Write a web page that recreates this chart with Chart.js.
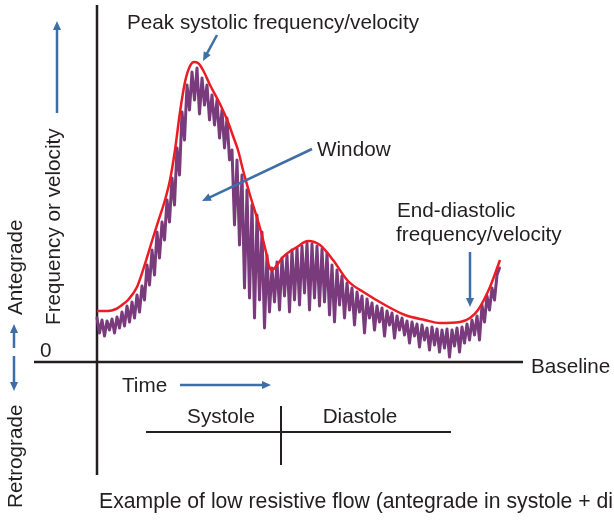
<!DOCTYPE html>
<html lang="en">
<head>
  <meta charset="UTF-8">
  <title>Doppler Spectral Waveform</title>
  <style>
    body { margin: 0; background: #fff; }
    #wave { display: block; }
  </style>
  <script src="https://cdn.jsdelivr.net/npm/chart.js"></script>
</head>
<body>
  <canvas id="wave" width="614" height="520"></canvas>

  <script>
    // spectral trace: Doppler shift (Hz) sampled every 5 ms over one cardiac cycle
    const traceStart = 0;
    const traceStep = 5;
    const traceHz = [
      440, 290, 420, 260, 410, 320, 430, 290, 450, 340,
      500, 360, 560, 400, 600, 440, 670, 500, 760, 620,
      970, 770, 1120, 870, 1300, 1040, 1400, 1220, 1620, 1400,
      1840, 1570, 2140, 1870, 2500, 2220, 2770, 2520, 2900, 2620,
      2940, 2480, 2840, 2570, 2770, 2420, 2670, 2370, 2620, 2240,
      2520, 2140, 2440, 2020, 2120, 1370, 2020, 1170, 1870, 740,
      1720, 640, 1570, 440, 1470, 620, 1300, 340, 1070, 500,
      940, 600, 1000, 520, 1040, 660, 1070, 500, 1120, 620,
      1140, 570, 1160, 690, 1190, 520, 1180, 640, 1160, 560,
      1130, 600, 1090, 470, 970, 400, 920, 570, 860, 440,
      790, 520, 740, 370, 700, 500, 660, 290, 630, 440,
      590, 320, 560, 400, 540, 260, 510, 370, 490, 240,
      460, 320, 440, 270, 410, 190, 400, 260, 380, 150,
      370, 220, 340, 120, 350, 170, 330, 100, 320, 140,
      330, 50, 320, 160, 340, 100, 350, 190, 380, 220,
      420, 270, 460, 220, 570, 400, 660, 520, 740, 620,
      870, 940
    ];

    // outline of the spectrum (the envelope), time in ms and shift in Hz
    const envelopeMs = [
      0, 22, 38, 50, 62, 80, 96, 110, 122, 136,
      146, 156, 166, 176, 186, 194, 202, 212, 226, 246,
      262, 272, 282, 292, 306, 326, 338, 344, 350, 360,
      372, 400, 422, 446, 472, 502, 536, 576, 616, 656,
      686, 726, 746, 762, 786, 806
    ];
    const envelopeHz = [
      510, 510, 530, 570, 620, 750, 980, 1210, 1400, 1620,
      1820, 2120, 2500, 2800, 2960, 3000, 2990, 2920, 2770, 2580,
      2400, 2260, 2120, 1920, 1670, 1340, 1100, 960, 920, 970,
      1050, 1150, 1210, 1170, 1020, 810, 690, 570, 470, 420,
      390, 400, 440, 520, 750, 1020
    ];

    const ink = '#231f20';
    const blue = '#3d6fa6';
    const font = '20.7px "Liberation Sans", Arial, sans-serif';

    function arrow(ctx, x1, y1, x2, y2) {
      const a = Math.atan2(y2 - y1, x2 - x1);
      const len = 9, half = 4;
      ctx.save();
      ctx.strokeStyle = blue;
      ctx.fillStyle = blue;
      ctx.lineWidth = 2.5;
      ctx.beginPath();
      ctx.moveTo(x1, y1);
      ctx.lineTo(x2 - Math.cos(a) * (len - 1), y2 - Math.sin(a) * (len - 1));
      ctx.stroke();
      ctx.beginPath();
      ctx.moveTo(x2, y2);
      ctx.lineTo(x2 - Math.cos(a) * len - Math.sin(a) * half, y2 - Math.sin(a) * len + Math.cos(a) * half);
      ctx.lineTo(x2 - Math.cos(a) * len + Math.sin(a) * half, y2 - Math.sin(a) * len - Math.cos(a) * half);
      ctx.closePath();
      ctx.fill();
      ctx.restore();
    }

    function line(ctx, x1, y1, x2, y2) {
      ctx.beginPath();
      ctx.moveTo(x1, y1);
      ctx.lineTo(x2, y2);
      ctx.stroke();
    }

    function vtext(ctx, str, x, y) {
      // reads bottom to top, starting at (x, y)
      ctx.save();
      ctx.translate(x, y);
      ctx.rotate(-Math.PI / 2);
      ctx.textAlign = 'left';
      ctx.fillText(str, 0, 0);
      ctx.restore();
    }

    // axes, labels and arrows around the waveform
    const diagram = {
      id: 'diagram',
      beforeDatasetsDraw(chart) {
        const ctx = chart.ctx;
        const x0 = chart.scales.x.getPixelForValue(0);
        const y0 = chart.scales.y.getPixelForValue(0);
        ctx.save();
        ctx.strokeStyle = ink;
        ctx.lineWidth = 2.5;
        line(ctx, x0, 5, x0, 475);
        line(ctx, 34, y0, 523, y0);
        ctx.restore();
      },
      afterDatasetsDraw(chart) {
        const ctx = chart.ctx;
        ctx.save();
        ctx.fillStyle = ink;
        ctx.strokeStyle = ink;
        ctx.font = font;
        ctx.textBaseline = 'alphabetic';

        ctx.textAlign = 'left';
        ctx.fillText('0', 40, 357);
        ctx.fillText('Baseline', 531, 373);
        ctx.fillText('Time', 122, 392);
        ctx.fillText('Peak systolic frequency/velocity', 127, 29);
        ctx.fillText('Window', 317, 156);
        ctx.fillText('End-diastolic', 397, 217);
        ctx.fillText('frequency/velocity', 396, 241);

        ctx.font = '21.2px "Liberation Sans", Arial, sans-serif';
        ctx.fillText('Example of low resistive flow (antegrade in systole + diastole)', 99, 508);
        ctx.font = font;

        ctx.textAlign = 'center';
        ctx.fillText('Systole', 221, 423);
        ctx.fillText('Diastole', 360, 423);

        ctx.lineWidth = 2;
        line(ctx, 146, 432, 451, 432);
        line(ctx, 281, 406, 281, 465);

        vtext(ctx, 'Retrograde', 22, 508);
        vtext(ctx, 'Antegrade', 22, 315);
        vtext(ctx, 'Frequency or velocity', 60, 325);

        arrow(ctx, 14, 348, 14, 324);
        arrow(ctx, 14, 356, 14, 391);
        arrow(ctx, 57, 113, 57, 21);
        arrow(ctx, 180, 385, 271, 385);
        arrow(ctx, 217, 35, 203, 61);
        arrow(ctx, 312, 149, 202, 201);
        arrow(ctx, 470, 252, 470, 307);
        ctx.restore();
      }
    };

    new Chart(document.getElementById('wave'), {
      type: 'line',
      data: {
        datasets: [
          {
            label: 'Envelope',
            data: envelopeMs.map((t, i) => ({ x: t, y: envelopeHz[i] })),
            borderColor: '#ec1c24',
            borderWidth: 2.5,
            cubicInterpolationMode: 'monotone',
            pointRadius: 0,
            order: 1
          },
          {
            label: 'Spectrum',
            data: traceHz.map((v, i) => ({ x: traceStart + i * traceStep, y: v })),
            borderColor: '#7a3b7c',
            borderWidth: 3,
            borderJoinStyle: 'round',
            borderCapStyle: 'round',
            tension: 0,
            pointRadius: 0,
            order: 2
          }
        ]
      },
      options: {
        responsive: false,
        animation: false,
        events: [],
        layout: { padding: 0 },
        plugins: { legend: { display: false }, tooltip: { enabled: false } },
        scales: {
          x: { type: 'linear', min: -194, max: 1034, display: false },
          y: { type: 'linear', min: -1580, max: 3620, display: false }
        }
      },
      plugins: [diagram]
    });
  </script>
</body>
</html>
